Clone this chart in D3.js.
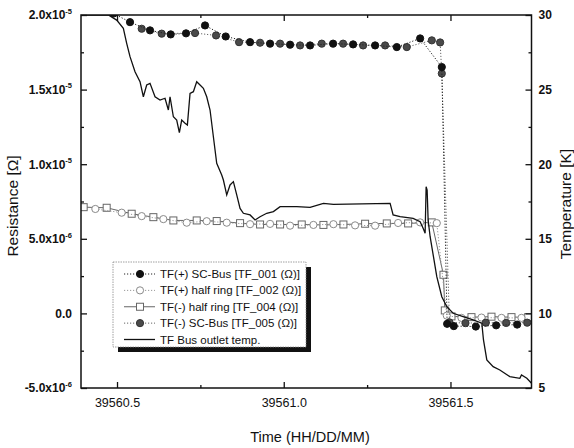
<!DOCTYPE html>
<html>
<head>
<meta charset="utf-8">
<script src="https://cdn.jsdelivr.net/npm/d3@7"></script>
<style>
  body { margin: 0; background: #fff; }
  text { font-family: "Liberation Sans", Arial, sans-serif; fill: #111; }
</style>
</head>
<body>
<div id="chart"></div>
<script>
// TF bus resistance vs outlet temperature

// TF(+) SC-Bus [TF_001]
const tf001Time = [39560.490, 39560.539, 39560.599, 39560.661, 39560.707, 39560.764, 39560.826, 39560.899, 39560.959,
  39561.019, 39561.079, 39561.148, 39561.208, 39561.274, 39561.339, 39561.409, 39561.474, 39561.490,
  39561.510, 39561.576, 39561.637, 39561.700];
const tf001Res = [2.01e-5, 1.952e-5, 1.897e-5, 1.870e-5, 1.877e-5, 1.930e-5, 1.856e-5, 1.818e-5, 1.808e-5,
  1.801e-5, 1.796e-5, 1.808e-5, 1.803e-5, 1.796e-5, 1.785e-5, 1.843e-5, 1.651e-5, -0.70e-6,
  -0.85e-6, -0.88e-6, -0.80e-6, -0.75e-6];

// TF(+) half ring [TF_002]
const tf002Time = [39560.435, 39560.514, 39560.574, 39560.639, 39560.709, 39560.769, 39560.829, 39560.899, 39560.959,
  39561.019, 39561.089, 39561.149, 39561.214, 39561.274, 39561.343, 39561.409, 39561.459, 39561.489,
  39561.533, 39561.593, 39561.653, 39561.713];
const tf002Res = [7.00e-6, 6.75e-6, 6.52e-6, 6.32e-6, 6.08e-6, 6.18e-6, 6.08e-6, 5.98e-6, 6.00e-6,
  5.88e-6, 5.93e-6, 5.98e-6, 5.90e-6, 5.88e-6, 6.06e-6, 6.10e-6, 6.05e-6, -0.15e-6,
  -0.30e-6, -0.28e-6, -0.30e-6, -0.30e-6];

// TF(-) half ring [TF_004]
const tf004Time = [39560.400, 39560.469, 39560.544, 39560.609, 39560.669, 39560.739, 39560.799, 39560.869, 39560.929,
  39560.989, 39561.054, 39561.119, 39561.179, 39561.244, 39561.309, 39561.373, 39561.444, 39561.479,
  39561.483, 39561.503, 39561.563, 39561.623, 39561.683, 39561.733];
const tf004Res = [7.12e-6, 7.08e-6, 6.68e-6, 6.45e-6, 6.23e-6, 6.23e-6, 6.19e-6, 6.05e-6, 5.96e-6,
  5.96e-6, 5.96e-6, 5.93e-6, 5.96e-6, 6.01e-6, 6.03e-6, 6.03e-6, 6.10e-6, 2.59e-6,
  0.20e-6, -0.20e-6, -0.25e-6, -0.22e-6, -0.25e-6, -0.25e-6];

// TF(-) SC-Bus [TF_005]
const tf005Time = [39560.574, 39560.634, 39560.734, 39560.797, 39560.866, 39560.929, 39560.989, 39561.049, 39561.114,
  39561.178, 39561.238, 39561.304, 39561.369, 39561.444, 39561.469, 39561.474, 39561.497, 39561.545,
  39561.606, 39561.667, 39561.730];
const tf005Res = [1.908e-5, 1.875e-5, 1.879e-5, 1.863e-5, 1.818e-5, 1.814e-5, 1.808e-5, 1.796e-5, 1.808e-5,
  1.808e-5, 1.796e-5, 1.796e-5, 1.785e-5, 1.830e-5, 1.816e-5, 1.608e-5, -0.60e-6, -0.65e-6,
  -0.62e-6, -0.64e-6, -0.62e-6];

// TF Bus outlet temp. [K]
const tempTime = [39560.392, 39560.474, 39560.499, 39560.519, 39560.529, 39560.539, 39560.554, 39560.569, 39560.579,
  39560.589, 39560.599, 39560.614, 39560.629, 39560.644, 39560.654, 39560.659, 39560.669, 39560.679,
  39560.687, 39560.694, 39560.704, 39560.711, 39560.719, 39560.729, 39560.739, 39560.749, 39560.759,
  39560.769, 39560.779, 39560.789, 39560.799, 39560.814, 39560.819, 39560.829, 39560.839, 39560.849,
  39560.859, 39560.869, 39560.879, 39560.899, 39560.914, 39560.929, 39560.949, 39560.969, 39560.989,
  39561.039, 39561.079, 39561.119, 39561.149, 39561.319, 39561.328, 39561.349, 39561.388, 39561.409,
  39561.418, 39561.424, 39561.427, 39561.430, 39561.433, 39561.439, 39561.449, 39561.459, 39561.474,
  39561.489, 39561.508, 39561.538, 39561.568, 39561.594, 39561.599, 39561.609, 39561.628, 39561.648,
  39561.678, 39561.708, 39561.713, 39561.729, 39561.743];
const tempK = [30.0, 30.0, 29.66, 29.11, 28.10, 27.21, 26.20, 25.53, 24.52,
  25.31, 25.42, 24.52, 24.30, 24.42, 23.63, 24.52, 23.18, 22.96,
  22.11, 22.96, 22.74, 22.63, 24.75, 24.86, 25.53, 25.31, 25.09,
  24.52, 23.63, 21.84, 20.06, 19.28, 18.94, 17.94, 18.61, 18.83,
  17.94, 17.04, 16.71, 16.60, 16.26, 16.48, 16.71, 16.82, 17.15,
  17.15, 17.10, 17.38, 17.31, 17.38, 16.60, 16.48, 16.37, 16.15,
  15.70, 15.37, 18.49, 18.27, 16.26, 15.14, 13.80, 12.46, 11.12,
  10.45, 10.01, 9.78, 9.56, 9.34, 8.22, 6.88, 6.43, 6.21,
  5.76, 5.65, 5.87, 5.65, 5.32];

const xMajor = [39560.5, 39561.0, 39561.5];
const xMinor = [39560.75, 39561.25];
const yMajor = [-5e-6, 0, 5e-6, 1.0e-5, 1.5e-5, 2.0e-5];
const yMinor = [-2.5e-6, 2.5e-6, 7.5e-6, 1.25e-5, 1.75e-5];
const tMajor = [5, 10, 15, 20, 25, 30];
const tMinor = [7.5, 12.5, 17.5, 22.5, 27.5];

const legendLabels = ["TF(+) SC-Bus [TF_001 (\u03A9)]", "TF(+) half ring [TF_002 (\u03A9)]",
  "TF(-) half ring [TF_004 (\u03A9)]", "TF(-) SC-Bus [TF_005 (\u03A9)]", "TF Bus outlet temp."];

const width = 574, height = 448;
const margin = {top: 15, right: 42.5, bottom: 60, left: 81};

const svg = d3.select("#chart")
  .append("svg")
  .attr("width", width)
  .attr("height", height)
  .attr("viewBox", [0, 0, width, height]);

const x = d3.scaleLinear().domain([39560.392, 39561.743]).range([margin.left, width - margin.right]);
const y = d3.scaleLinear().domain([-5e-6, 2e-5]).range([height - margin.bottom, margin.top]);
const yT = d3.scaleLinear().domain([5, 30]).range([height - margin.bottom, margin.top]);

svg.append("clipPath").attr("id", "plotclip")
  .append("rect")
  .attr("x", margin.left).attr("y", margin.top)
  .attr("width", width - margin.left - margin.right)
  .attr("height", height - margin.top - margin.bottom);

const series = [
  {time: tf001Time, val: tf001Res, scale: y, line: "#222", dash: "1.2,1.8", mark: "circle", fill: "#111", stroke: "#111"},
  {time: tf002Time, val: tf002Res, scale: y, line: "#999", dash: "1.2,1.8", mark: "circle", fill: "#fff", stroke: "#8a8a8a"},
  {time: tf004Time, val: tf004Res, scale: y, line: "#666", dash: null, mark: "square", fill: "#fff", stroke: "#666"},
  {time: tf005Time, val: tf005Res, scale: y, line: "#666", dash: "1.2,1.8", mark: "circle", fill: "#4a4a4a", stroke: "#333"},
  {time: tempTime, val: tempK, scale: yT, line: "#111", dash: null, mark: null, width: 1.3}
];

const plot = svg.append("g").attr("clip-path", "url(#plotclip)");

// draw order: half rings first, then SC-bus, temperature on top
[2, 1, 3, 0, 4].forEach(i => {
  const s = series[i];
  const pts = s.time.map((t, k) => [t, s.val[k]]);
  const line = d3.line().x(d => x(d[0])).y(d => s.scale(d[1]));
  plot.append("path")
    .datum(pts)
    .attr("fill", "none")
    .attr("stroke", s.line)
    .attr("stroke-width", s.width || 1)
    .attr("stroke-dasharray", s.dash)
    .attr("d", line);
  if (s.mark === "circle") {
    plot.append("g").selectAll("circle")
      .data(pts)
      .join("circle")
      .attr("cx", d => x(d[0]))
      .attr("cy", d => s.scale(d[1]))
      .attr("r", 3.6)
      .attr("fill", s.fill)
      .attr("stroke", s.stroke)
      .attr("stroke-width", 1);
  } else if (s.mark === "square") {
    plot.append("g").selectAll("rect")
      .data(pts)
      .join("rect")
      .attr("x", d => x(d[0]) - 3.5)
      .attr("y", d => s.scale(d[1]) - 3.5)
      .attr("width", 7)
      .attr("height", 7)
      .attr("fill", s.fill)
      .attr("stroke", s.stroke)
      .attr("stroke-width", 1);
  }
});

// frame
svg.append("rect")
  .attr("x", margin.left).attr("y", margin.top)
  .attr("width", width - margin.left - margin.right)
  .attr("height", height - margin.top - margin.bottom)
  .attr("fill", "none")
  .attr("stroke", "#111")
  .attr("stroke-width", 1.5);

const bottomY = height - margin.bottom, rightX = width - margin.right;

// axes (ticks pointing inward)
svg.append("g").attr("transform", `translate(0,${bottomY})`)
  .call(d3.axisBottom(x).tickValues(xMajor).tickSize(-6).tickPadding(10).tickFormat(d3.format(".1f")))
  .call(g => g.select(".domain").remove())
  .call(g => g.selectAll("text").attr("font-size", 12.5).attr("font-family", null));
svg.append("g").attr("transform", `translate(0,${bottomY})`)
  .call(d3.axisBottom(x).tickValues(xMinor).tickSize(-3).tickFormat(""))
  .call(g => g.select(".domain").remove());
svg.append("g").attr("transform", `translate(0,${margin.top})`)
  .call(d3.axisTop(x).tickValues(xMajor).tickSize(-6).tickFormat(""))
  .call(g => g.select(".domain").remove());
svg.append("g").attr("transform", `translate(0,${margin.top})`)
  .call(d3.axisTop(x).tickValues(xMinor).tickSize(-3).tickFormat(""))
  .call(g => g.select(".domain").remove());

// left axis with x10^n labels
const supers = {"-5": "-5", "-6": "-6"};
svg.append("g").attr("transform", `translate(${margin.left},0)`)
  .call(d3.axisLeft(y).tickValues(yMajor).tickSize(-6).tickPadding(9).tickFormat(""))
  .call(g => g.select(".domain").remove())
  .call(g => g.selectAll(".tick text").each(function(d) {
    const t = d3.select(this).attr("font-size", 12).attr("font-weight", "bold").attr("font-family", null);
    if (d === 0) { t.text("0.0"); return; }
    const exp = Math.floor(Math.log10(Math.abs(d)) + 1e-9);
    const mant = d / Math.pow(10, exp);
    t.append("tspan").text(mant.toFixed(1) + "x10");
    t.append("tspan").attr("font-size", 7.5).attr("dy", "-0.75em").text(String(exp));
  }));
svg.append("g").attr("transform", `translate(${margin.left},0)`)
  .call(d3.axisLeft(y).tickValues(yMinor).tickSize(-3).tickFormat(""))
  .call(g => g.select(".domain").remove());

// right axis: temperature
svg.append("g").attr("transform", `translate(${rightX},0)`)
  .call(d3.axisRight(yT).tickValues(tMajor).tickSize(-6).tickPadding(7).tickFormat(d3.format("d")))
  .call(g => g.select(".domain").remove())
  .call(g => g.selectAll("text").attr("font-size", 12).attr("font-weight", "bold").attr("font-family", null));
svg.append("g").attr("transform", `translate(${rightX},0)`)
  .call(d3.axisRight(yT).tickValues(tMinor).tickSize(-3).tickFormat(""))
  .call(g => g.select(".domain").remove());

svg.selectAll(".tick line").attr("stroke", "#111").attr("stroke-width", 1.3);

// axis titles
svg.append("text")
  .attr("transform", "translate(18,206) rotate(-90)")
  .attr("text-anchor", "middle")
  .attr("font-size", 15.5)
  .text("Resistance [\u03A9]");
svg.append("text")
  .attr("transform", "translate(571,204) rotate(-90)")
  .attr("text-anchor", "middle")
  .attr("font-size", 15.5)
  .text("Temperature [K]");
svg.append("text")
  .attr("x", 310).attr("y", 442)
  .attr("text-anchor", "middle")
  .attr("font-size", 14.5)
  .text("Time (HH/DD/MM)");

// legend with drop shadow
const lg = svg.append("g");
const box = {x: 113, y: 262, w: 193, h: 85};
lg.append("rect").attr("x", box.x + 5).attr("y", box.y + 5).attr("width", box.w).attr("height", box.h).attr("fill", "#111");
lg.append("rect").attr("x", box.x).attr("y", box.y).attr("width", box.w).attr("height", box.h)
  .attr("fill", "#fff").attr("stroke", "#888").attr("stroke-width", 0.8).attr("stroke-dasharray", "1.5,1");

const rowY = d3.scalePoint().domain(d3.range(legendLabels.length)).range([274, 339.5]);
legendLabels.forEach((label, i) => {
  const s = series[i];
  const cy = rowY(i);
  lg.append("line")
    .attr("x1", 124).attr("x2", 155).attr("y1", cy).attr("y2", cy)
    .attr("stroke", s.line)
    .attr("stroke-width", s.width || 1)
    .attr("stroke-dasharray", s.dash);
  if (s.mark === "circle") {
    lg.append("circle").attr("cx", 140).attr("cy", cy).attr("r", 3.6)
      .attr("fill", s.fill).attr("stroke", s.stroke);
  } else if (s.mark === "square") {
    lg.append("rect").attr("x", 136.5).attr("y", cy - 3.5).attr("width", 7).attr("height", 7)
      .attr("fill", s.fill).attr("stroke", s.stroke);
  }
  lg.append("text")
    .attr("x", 160).attr("y", cy)
    .attr("dy", "0.35em")
    .attr("font-size", 11.5)
    .text(label);
});
</script>
</body>
</html>
